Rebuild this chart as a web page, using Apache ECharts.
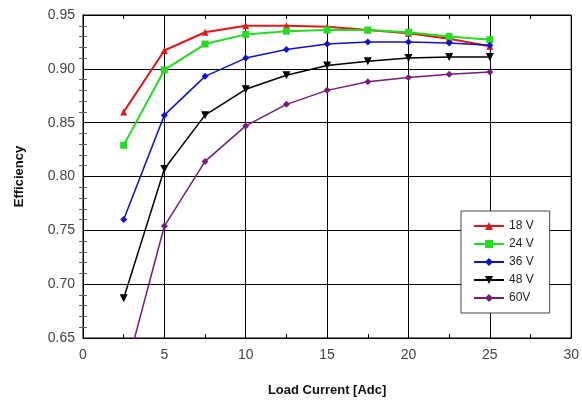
<!DOCTYPE html>
<html><head><meta charset="utf-8">
<script src="https://cdn.jsdelivr.net/npm/echarts@6/dist/echarts.min.js"></script>
<style>html,body{margin:0;padding:0;background:#fff}#c{width:582px;height:402px}</style>
</head><body><div id="c"></div>
<script>
var loadCurrent = [2.5, 5, 7.5, 10, 12.5, 15, 17.5, 20, 22.5, 25];
var eff18 = [0.860, 0.917, 0.934, 0.940, 0.940, 0.939, 0.936, 0.933, 0.928, 0.921];
var eff24 = [0.829, 0.899, 0.923, 0.932, 0.935, 0.936, 0.936, 0.934, 0.930, 0.927];
var eff36 = [0.760, 0.857, 0.893, 0.910, 0.918, 0.923, 0.925, 0.925, 0.924, 0.922];
var eff48 = [0.687, 0.807, 0.857, 0.881, 0.894, 0.903, 0.907, 0.910, 0.911, 0.911];
var eff60 = [0.612, 0.754, 0.814, 0.847, 0.867, 0.880, 0.888, 0.892, 0.895, 0.897];
var seriesNames = ['18 V', '24 V', '36 V', '48 V', '60V'];
var seriesData = [eff18, eff24, eff36, eff48, eff60];
var colors = ['#e01818', '#22dd22', '#1010d0', '#000000', '#7a1a7a'];
var symbols = ['triangle', 'rect', 'diamond', 'path://M0,0 L10,0 L5,10 Z', 'diamond'];
var widths = [2, 2, 1.5, 1.5, 1.5];

function pairs(ys){ return loadCurrent.map(function(x,i){ return [x, ys[i]]; }); }

var chart = echarts.init(document.getElementById('c'));
var font = 'Liberation Sans, Arial, sans-serif';
var axLine = {show:true, lineStyle:{color:'#000', width:1}};
var option = {
  animation:false,
  color: colors,
  grid:{left:83, right:7, top:15, bottom:64, show:true, borderColor:'#000', borderWidth:1},
  legend:{
    orient:'vertical', left:461, top:211,
    data: seriesNames,
    backgroundColor:'#fff', borderColor:'#444', borderWidth:1,
    padding:[9,16,9,12], itemGap:6, itemWidth:30, itemHeight:10,
    textStyle:{fontFamily:font, fontSize:12, color:'#222'}
  },
  xAxis:[{
    type:'value', min:0, max:30, interval:5,
    name:'Load Current [Adc]', nameLocation:'middle', nameGap:46,
    nameTextStyle:{fontFamily:font, fontSize:13, fontWeight:'bold', color:'#111'},
    axisLine:axLine,
    axisTick:{show:true, inside:true, length:5, lineStyle:{color:'#000'}},
    minorTick:{show:true, splitNumber:2, length:4, lineStyle:{color:'#000'}},
    axisLabel:{fontFamily:font, fontSize:14, color:'#444', margin:10},
    splitLine:{show:true, lineStyle:{color:'#000', width:1}}
  },{
    type:'value', min:0, max:30, interval:5, position:'top',
    axisLine:axLine,
    axisTick:{show:true, inside:true, length:5, lineStyle:{color:'#000'}},
    minorTick:{show:true, splitNumber:2, length:4, lineStyle:{color:'#000'}},
    axisLabel:{show:false}, splitLine:{show:false}
  }],
  yAxis:[{
    type:'value', min:0.65, max:0.95, interval:0.05,
    name:'Efficiency', nameLocation:'middle', nameGap:57, nameRotate:90,
    nameTextStyle:{fontFamily:font, fontSize:13, fontWeight:'bold', color:'#111'},
    axisLine:axLine,
    axisTick:{show:false},
    minorTick:{show:true, splitNumber:5, length:4, lineStyle:{color:'#666'}},
    axisLabel:{fontFamily:font, fontSize:14, color:'#444', margin:8,
      formatter:function(v){return v.toFixed(2);}},
    splitLine:{show:true, lineStyle:{color:'#000', width:1}}
  },{
    type:'value', min:0.65, max:0.95, interval:0.05, position:'right',
    axisLine:axLine,
    axisTick:{show:false},
    minorTick:{show:true, splitNumber:5, length:4, lineStyle:{color:'#666'}},
    axisLabel:{show:false}, splitLine:{show:false}
  }],
  series: seriesNames.map(function(n,i){
    return {
      name:n, type:'line', xAxisIndex:0, yAxisIndex:0,
      data: pairs(seriesData[i]),
      symbol: symbols[i], symbolSize: i===3 ? 8 : 7,
      clip:true,
      lineStyle:{color:colors[i], width:widths[i]},
      itemStyle:{color:colors[i]}
    };
  })
};
chart.setOption(option);
</script></body></html>
